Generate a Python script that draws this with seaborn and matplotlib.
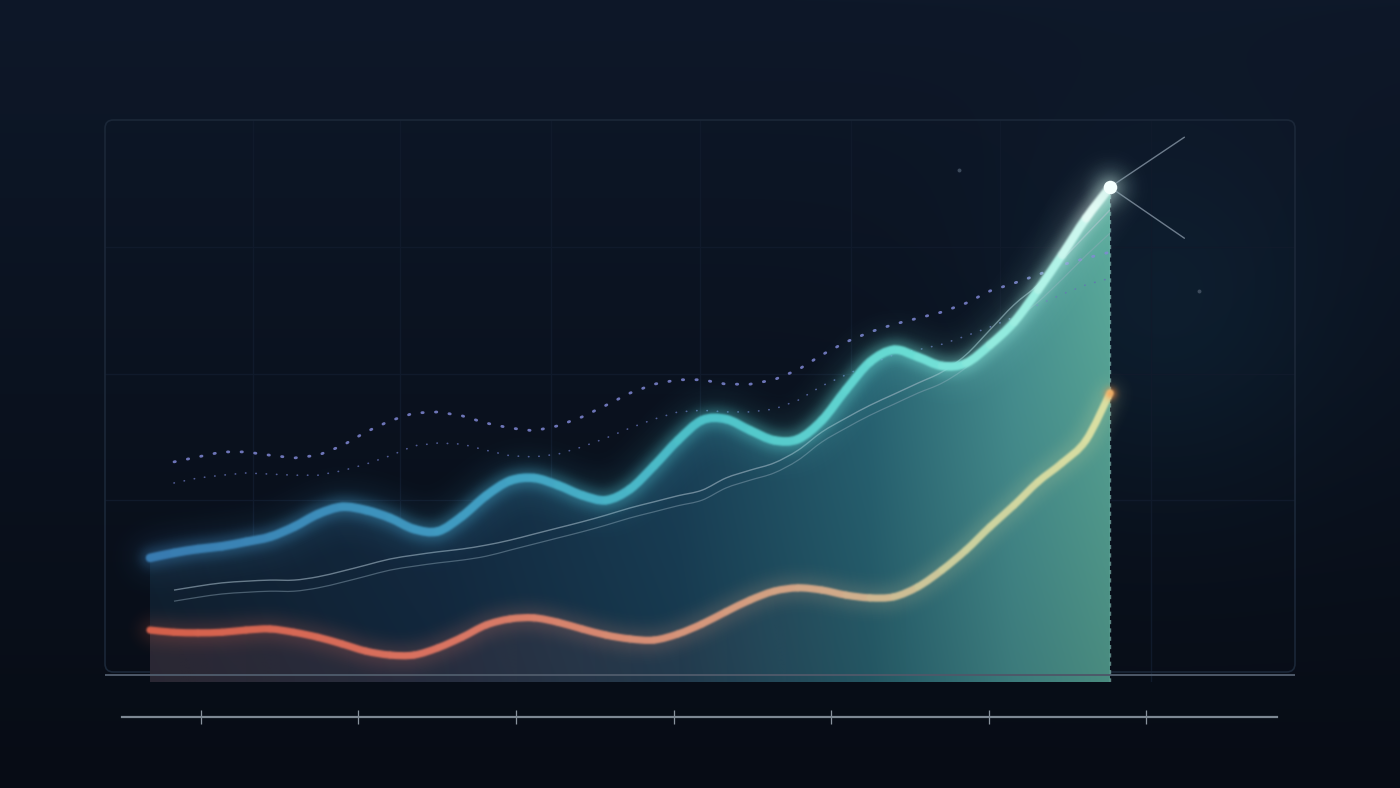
import numpy as np
import pandas as pd
import seaborn as sns
import matplotlib
matplotlib.use("Agg")
import matplotlib.pyplot as plt
from matplotlib.collections import PathCollection
from matplotlib.colors import LinearSegmentedColormap, to_rgb
from matplotlib.patches import FancyBboxPatch, PathPatch
from matplotlib.path import Path

# values (index 0..40, level 0..100)
weeks = np.arange(41)
growth = [21.1, 22.0, 22.7, 23.2, 24.0, 24.9, 26.7, 29.0, 30.3, 29.7,
          28.3, 26.3, 25.9, 28.6, 32.3, 35.0, 35.5, 34.2, 32.4, 31.5,
          33.5, 37.7, 42.3, 45.9, 46.1, 44.1, 42.3, 42.5, 45.9, 51.4,
          56.4, 58.6, 57.3, 55.7, 56.2, 59.5, 63.6, 69.4, 75.7, 82.3, 87.9]
baseline = [8.1, 7.7, 7.6, 7.7, 8.1, 8.3, 7.7, 6.8, 5.6, 4.3,
            3.6, 3.6, 4.9, 6.8, 9.0, 10.1, 10.3, 9.5, 8.3, 7.2,
            6.5, 6.3, 7.4, 9.2, 11.4, 13.5, 15.1, 15.7, 15.3, 14.4,
            13.9, 14.1, 15.9, 18.9, 22.5, 26.7, 30.6, 34.8, 38.2, 42.3, 50.8]
trend_upper = [14.8, 15.3, 16.0, 16.6, 16.9, 17.1, 17.1, 17.7, 18.7, 19.8,
               20.9, 21.6, 22.2, 22.7, 23.4, 24.3, 25.4, 26.5, 27.6, 28.8,
               30.1, 31.2, 32.3, 33.3, 35.5, 36.9, 38.2, 40.5, 43.8, 46.3,
               48.6, 50.6, 52.6, 54.6, 57.7, 62.2, 66.7, 70.3, 74.8, 79.3, 83.8]
trend_lower = [12.8, 13.3, 14.0, 14.6, 14.9, 15.1, 15.1, 15.7, 16.7, 17.8,
               18.9, 19.6, 20.2, 20.7, 21.4, 22.5, 23.6, 24.7, 25.8, 27.0,
               28.3, 29.4, 30.5, 31.5, 33.7, 35.1, 36.4, 38.7, 42.0, 44.5,
               46.8, 48.8, 50.8, 52.6, 55.4, 59.5, 63.8, 67.2, 71.3, 75.6, 79.6]
forecast_high = [np.nan, 38.4, 39.3, 40.2, 40.2, 39.6, 39.1, 39.6, 41.3, 43.8,
                 45.8, 47.2, 47.4, 46.7, 45.4, 44.5, 44.0, 44.9, 46.5, 48.6,
                 50.8, 52.4, 53.2, 53.2, 52.4, 52.4, 53.2, 55.0, 57.7, 60.0,
                 61.8, 63.2, 64.3, 65.4, 67.0, 69.2, 70.6, 72.1, 73.9, 75.1, 76.2]
forecast_low = [np.nan, 34.6, 35.5, 36.0, 36.4, 36.2, 36.0, 36.0, 36.8, 38.0,
                39.5, 41.3, 41.8, 41.6, 40.5, 39.5, 39.3, 39.8, 41.1, 42.7,
                44.5, 46.1, 47.4, 47.7, 47.4, 47.4, 47.9, 49.5, 52.1, 54.1,
                56.0, 57.7, 58.6, 59.6, 61.1, 62.7, 64.5, 66.7, 68.6, 70.3, 71.5]
tick_weeks = [2.125, 8.667, 15.25, 21.83, 28.375, 34.958, 41.5]
grid_weeks = [4.3, 10.4, 16.7, 22.9, 29.2, 35.4, 41.7]
grid_levels = [31.5, 54.2, 77.1]
callout_x = [43.1, 43.1]
callout_y = [96.9, 78.7]
stray_x = [33.7, 43.7]
stray_y = [91.0, 69.2]

df = pd.DataFrame({"week": weeks, "forecast_high": forecast_high, "forecast_low": forecast_low})


def gaussian_blur(img, sigma):
    r = max(int(3 * sigma), 1)
    w = np.exp(-0.5 * (np.arange(-r, r + 1) / sigma) ** 2)
    w /= w.sum()
    out = np.zeros_like(img)
    p = np.pad(img, ((r, r), (0, 0), (0, 0)))
    for i, wi in enumerate(w):
        out += wi * p[i:i + img.shape[0]]
    res = np.zeros_like(out)
    p = np.pad(out, ((0, 0), (r, r), (0, 0)))
    for i, wi in enumerate(w):
        res += wi * p[:, i:i + img.shape[1]]
    return res


def glow(sigma, gain):
    # agg filter: soft blur of whatever the artist drew
    def _filter(img, dpi):
        pad = int(3 * sigma) + 2
        src = np.pad(img, ((pad, pad), (pad, pad), (0, 0)))
        a = src[..., 3:4]
        bl = gaussian_blur(np.concatenate([src[..., :3] * a, a], axis=2), sigma)
        alpha = bl[..., 3:4]
        rgb = bl[..., :3] / np.maximum(alpha, 1e-6)
        out = np.concatenate([np.clip(rgb, 0, 1), np.clip(alpha * gain, 0, 1)], axis=2)
        return out, -pad, -pad
    return _filter


def bezier_vertices(x, y):
    # cubic pieces through the readings (matplotlib draws the curve)
    p = np.column_stack([x, y]).astype(float)
    n = len(p)
    pieces = []
    for i in range(n - 1):
        p0, p1, p2, p3 = p[max(i - 1, 0)], p[i], p[i + 1], p[min(i + 2, n - 1)]
        pieces.append([p1, p1 + (p2 - p0) / 6, p2 - (p3 - p1) / 6, p2])
    return pieces


def smooth_path(x, y, floor=None):
    pieces = bezier_vertices(x, y)
    verts = [pieces[0][0]]
    codes = [Path.MOVETO]
    for pc in pieces:
        verts += pc[1:]
        codes += [Path.CURVE4] * 3
    if floor is not None:
        verts += [(x[-1], floor), (x[0], floor), (x[0], floor)]
        codes += [Path.LINETO, Path.LINETO, Path.CLOSEPOLY]
    return Path(verts, codes)


def gradient_curve(ax, x, y, cmap, lw, zorder, blur=None):
    pieces = bezier_vertices(x, y)
    paths = [Path(pc, [Path.MOVETO, Path.CURVE4, Path.CURVE4, Path.CURVE4]) for pc in pieces]
    colors = cmap((np.asarray(x[:-1]) + 0.5) / (len(x) - 1))
    pc = PathCollection(paths, facecolors="none", edgecolors=colors, linewidths=lw,
                        transform=ax.transData, zorder=zorder, capstyle="round", joinstyle="round")
    if blur is not None:
        pc.set_agg_filter(glow(*blur))
    ax.add_collection(pc, autolim=False)


sns.set_style("dark")
plt.rcParams["font.family"] = ["DejaVu Sans"]

fig = plt.figure(figsize=(14, 7.88), dpi=100)
fig.patch.set_facecolor("#0b1321")

# background: vertical gradient plus a faint teal glow to the right
bg = fig.add_axes([0, 0, 1, 1], zorder=-10)
H, W = 197, 350
yy, xx = np.mgrid[0:H, 0:W]
t = yy[..., None] / (H - 1)
top, bot = np.array(to_rgb("#0e1829")), np.array(to_rgb("#070c15"))
bg_img = top * (1 - t) + bot * t
d2 = ((xx - 0.83 * W) / (0.12 * W)) ** 2 + ((yy - 0.40 * H) / (0.22 * H)) ** 2
bg_img = bg_img + np.exp(-d2)[..., None] * np.array([0.008, 0.040, 0.050])
bg.imshow(np.clip(bg_img, 0, 1), extent=(0, 1, 0, 1), aspect="auto", interpolation="bicubic")
bg.axis("off")

ax = fig.add_axes([105 / 1400, 106 / 788, 1190 / 1400, 562 / 788])
ax.set_facecolor("none")
fill_floor = -1.26

# faint grid and frame
ax.set_xticks(grid_weeks)
ax.set_yticks(grid_levels)
ax.grid(True, color="#101a2b", lw=1.0)
ax.set_axisbelow(True)
ax.tick_params(length=0, labelbottom=False, labelleft=False)
for s in ax.spines.values():
    s.set_visible(False)
frame = FancyBboxPatch((0, 0.0178), 1, 1 - 0.0178, transform=ax.transAxes,
                       boxstyle="round,pad=0,rounding_size=0.007", mutation_aspect=2.14,
                       facecolor="none", edgecolor="#1b2738", lw=1.2, clip_on=False, zorder=0.6)
ax.add_patch(frame)

# gradient area under the main series
area_cmap = LinearSegmentedColormap.from_list(
    "area", [(0, "#132538"), (0.3, "#16304a"), (0.55, "#1c4660"),
             (0.75, "#2b6b7c"), (0.9, "#4b999a"), (1, "#5cae9f")])
cols = np.linspace(0, 1, 256)
rows = np.linspace(0, 1, 64)[:, None]
area_rgb = area_cmap(cols)[None, :, :3] * (0.8 + 0.2 * rows[..., None])
img = ax.imshow(np.clip(area_rgb, 0, 1), extent=(0, 40, fill_floor, 90), origin="lower",
                aspect="auto", interpolation="bilinear", zorder=1)
img.set_clip_path(smooth_path(weeks, growth, fill_floor), transform=ax.transData)

# warm tint under the baseline series, fading out to the right
warm_rgba = np.zeros((2, 256, 4))
warm_rgba[..., :3] = to_rgb("#c0605a")
warm_rgba[..., 3] = np.interp(cols, [0, 0.45, 0.8, 1], [0.16, 0.11, 0.0, 0.0])[None, :]
wimg = ax.imshow(warm_rgba, extent=(0, 40, fill_floor, 60), origin="lower",
                 aspect="auto", interpolation="bilinear", zorder=1.2)
wimg.set_clip_path(smooth_path(weeks, baseline, fill_floor), transform=ax.transData)

ax.set_xlim(-1.875, 47.708)
ax.set_ylim(-1.26, 100)

ax.axhline(0, color="#4d5969", lw=1.4, zorder=1.5)
ax.plot([weeks[-1], weeks[-1]], [fill_floor, growth[-1]], color="#9fe0d6", lw=1.0,
        ls=(0, (3, 3)), alpha=0.55, zorder=1.6)

# dotted forecast bands
sns.lineplot(data=df, x="week", y="forecast_high", ax=ax, color="#7f87d4", lw=2.0,
             ls=(0, (0.5, 4.4)), dash_capstyle="round", alpha=0.85, errorbar=None, zorder=2)
sns.lineplot(data=df, x="week", y="forecast_low", ax=ax, color="#6470b4", lw=1.2,
             ls=(0, (0.2, 6.0)), dash_capstyle="round", alpha=0.8, errorbar=None, zorder=2)

# thin trend lines
ax.add_patch(PathPatch(smooth_path(weeks[1:], trend_upper[1:]), facecolor="none",
                       edgecolor="#a4b8c6", lw=1.0, alpha=0.6, zorder=2.5))
ax.add_patch(PathPatch(smooth_path(weeks[1:], trend_lower[1:]), facecolor="none",
                       edgecolor="#90a8b8", lw=0.9, alpha=0.45, zorder=2.5))

# baseline series (warm gradient, glowing)
warm = LinearSegmentedColormap.from_list(
    "warm", [(0, "#d8614b"), (0.3, "#dc7462"), (0.55, "#d9957a"), (0.72, "#d4ad8c"),
             (0.85, "#cdd2a0"), (1, "#dde2a4")])
gradient_curve(ax, weeks, baseline, warm, 14, 3, blur=(6, 0.5))
gradient_curve(ax, weeks, baseline, warm, 5.2, 3.5, blur=(0.7, 1.0))
tip = ax.scatter([weeks[-1]], [baseline[-1]], s=45, color="#ff8a3a", lw=0, zorder=3.6)
tip.set_agg_filter(glow(2.5, 1.0))

# main series (cool gradient, glowing)
cool = LinearSegmentedColormap.from_list(
    "cool", [(0, "#3a7cb2"), (0.35, "#42a0c5"), (0.6, "#50c6cb"), (0.8, "#6cdfd6"),
             (0.93, "#a6f3e5"), (1, "#f2fffb")])
gradient_curve(ax, weeks, growth, cool, 28, 4, blur=(10, 0.38))
gradient_curve(ax, weeks, growth, cool, 13, 4.1, blur=(4, 0.65))
gradient_curve(ax, weeks, growth, cool, 6.2, 4.5, blur=(0.7, 1.0))

# end point highlight and callout strokes
for cx, cy in zip(callout_x, callout_y):
    ax.plot([weeks[-1], cx], [growth[-1], cy], color="#7f8e9e", lw=1.0, alpha=0.85,
            zorder=4.6, clip_on=False)
halo = ax.scatter([weeks[-1]], [growth[-1]], s=900, color="#a8ddd6", alpha=0.16, lw=0, zorder=4.7)
halo.set_agg_filter(glow(5, 1.0))
ax.scatter([weeks[-1]], [growth[-1]], s=95, color="#f4fffd", lw=0, zorder=5)
ax.scatter(stray_x, stray_y, s=8, color="#3d4b5c", lw=0, zorder=2)

ax.set_xlabel("")
ax.set_ylabel("")

# lower time axis
tax = fig.add_axes([122 / 1400, 71 / 788, 1155 / 1400, 0.02])
tax.set_facecolor("none")
tax.set_xlim(-1.1667, 46.958)
tax.set_xticks(tick_weeks)
tax.set_yticks([])
tax.tick_params(axis="x", bottom=True, direction="inout", length=10, width=0.9,
                color="#8a949e", labelbottom=False)
for name, s in tax.spines.items():
    s.set_visible(name == "bottom")
tax.spines["bottom"].set_color("#7d8893")
tax.spines["bottom"].set_linewidth(1.6)
tax.grid(False)

fig.savefig("out.png", dpi=100, facecolor=fig.get_facecolor())
plt.close(fig)
